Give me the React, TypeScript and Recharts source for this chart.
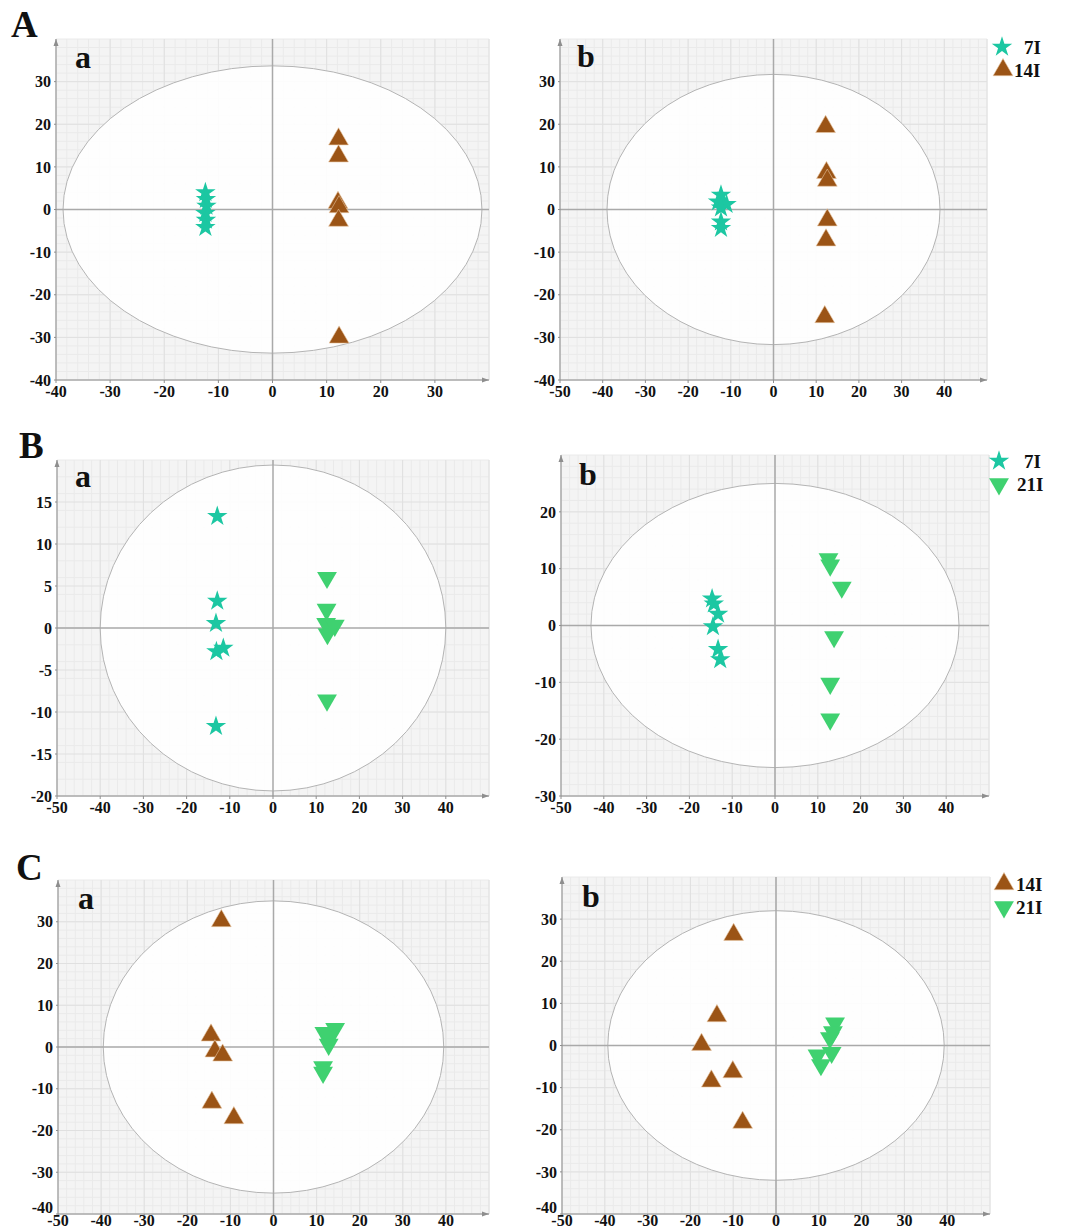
import React from "react";
import {
  ScatterChart,
  Scatter,
  XAxis,
  YAxis,
  CartesianGrid,
  ReferenceArea,
  ReferenceLine,
  ReferenceDot,
  Symbols,
} from "recharts";

const TEAL = "#1cc7a2";
const BROWN = "#9b5416";
const GREEN = "#3fd170";
const SERIF = "'Liberation Serif', 'Times New Roman', serif";

// ---- data ----
const aa7I = [
  { x: -12.4, y: 4.0 }, { x: -12.3, y: 2.4 }, { x: -12.2, y: 0.8 },
  { x: -12.4, y: -0.9 }, { x: -12.3, y: -2.5 }, { x: -12.4, y: -4.2 },
];
const aa14I = [
  { x: 12.2, y: 16.5 }, { x: 12.2, y: 12.5 }, { x: 12.1, y: 1.6 },
  { x: 12.3, y: 0.6 }, { x: 12.2, y: -2.6 }, { x: 12.3, y: -30 },
];
const ab7I = [
  { x: -12.3, y: 3.4 }, { x: -13.0, y: 1.8 }, { x: -11.0, y: 1.2 },
  { x: -12.3, y: 0.4 }, { x: -12.3, y: -2.9 }, { x: -12.3, y: -4.4 },
];
const ab14I = [
  { x: 12.2, y: 19.4 }, { x: 12.4, y: 8.6 }, { x: 12.6, y: 6.8 },
  { x: 12.6, y: -2.5 }, { x: 12.3, y: -7.2 }, { x: 12.0, y: -25.2 },
];
const ba7I = [
  { x: -12.9, y: 13.3 }, { x: -12.9, y: 3.2 }, { x: -13.2, y: 0.55 },
  { x: -13.1, y: -2.8 }, { x: -11.5, y: -2.4 }, { x: -13.2, y: -11.7 },
];
const ba21I = [
  { x: 12.5, y: 6.0 }, { x: 12.4, y: 2.2 }, { x: 12.3, y: 0.5 },
  { x: 14.3, y: 0.3 }, { x: 12.6, y: -0.7 }, { x: 12.5, y: -8.6 },
];
const bb7I = [
  { x: -14.7, y: 4.7 }, { x: -14.3, y: 3.8 }, { x: -13.3, y: 2.0 },
  { x: -14.5, y: -0.2 }, { x: -13.3, y: -4.2 }, { x: -12.8, y: -6.0 },
];
const bb21I = [
  { x: 12.5, y: 11.7 }, { x: 12.9, y: 10.6 }, { x: 15.6, y: 6.7 },
  { x: 13.8, y: -2.0 }, { x: 12.9, y: -10.2 }, { x: 12.9, y: -16.5 },
];
const ca14I = [
  { x: -12.1, y: 30.2 }, { x: -14.5, y: 2.8 }, { x: -13.6, y: -1.0 },
  { x: -11.8, y: -2.0 }, { x: -14.3, y: -13.3 }, { x: -9.2, y: -17.0 },
];
const ca21I = [
  { x: 14.3, y: 4.4 }, { x: 11.8, y: 3.4 }, { x: 12.9, y: 2.2 },
  { x: 12.8, y: 0.6 }, { x: 11.5, y: -4.8 }, { x: 11.5, y: -6.1 },
];
const cb14I = [
  { x: -9.9, y: 26.3 }, { x: -13.8, y: 7.0 }, { x: -17.4, y: 0.2 },
  { x: -10.1, y: -6.3 }, { x: -15.1, y: -8.5 }, { x: -7.8, y: -18.3 },
];
const cb21I = [
  { x: 13.8, y: 5.3 }, { x: 13.3, y: 3.2 }, { x: 12.6, y: 1.8 },
  { x: 13.0, y: -1.7 }, { x: 9.7, y: -2.3 }, { x: 10.5, y: -4.6 },
];

// Hotelling ellipse half-axes [x, y]
const ellipseAa = [38.7, 33.7];
const ellipseAb = [39, 31.7];
const ellipseBa = [40, 19.4];
const ellipseBb = [43, 25];
const ellipseCa = [39.5, 35];
const ellipseCb = [39.3, 32];

// ticks
const xTicks40 = [-40, -30, -20, -10, 0, 10, 20, 30];
const xTicks50 = [-50, -40, -30, -20, -10, 0, 10, 20, 30, 40];
const yTicks40 = [-40, -30, -20, -10, 0, 10, 20, 30];
const yTicks30 = [-30, -20, -10, 0, 10, 20];
const yTicks20 = [-20, -15, -10, -5, 0, 5, 10, 15];

type Kind = "star" | "up" | "down";

const Marker = ({ cx, cy, kind, color }: { cx: number; cy: number; kind: Kind; color: string }) => {
  if (kind === "star") return <Symbols cx={cx} cy={cy} type="star" size={130} fill={color} />;
  if (kind === "up")
    return <Symbols cx={cx} cy={cy} type="triangle" size={170} fill={color} stroke="#e9c7a4" strokeWidth={0.6} />;
  return (
    <g transform={`rotate(180 ${cx} ${cy})`}>
      <Symbols cx={cx} cy={cy} type="triangle" size={170} fill={color} />
    </g>
  );
};

const range = (a: number, b: number, step: number) => {
  const out: number[] = [];
  for (let v = a; v <= b; v += step) out.push(v);
  return out;
};

const tickFont = { fontFamily: SERIF, fontWeight: 700, fontSize: 16, fill: "#111" };

// y tick; in the bottom row the lowest label sits a little higher, as in the figure
const YTick = ({ x, y, payload, lowest, lift }: any) => (
  <text x={x} y={y - (lift && payload.value === lowest ? 7 : 0)} dy="0.355em" textAnchor="end" {...tickFont}>
    {payload.value}
  </text>
);

interface PanelProps {
  box: { x: number; y: number; w: number; h: number };
  xDomain: number[];
  yDomain: number[];
  xTicks: number[];
  yTicks: number[];
  ellipse: number[];
  series: { data: { x: number; y: number }[]; kind: Kind; color: string }[];
  tight?: boolean;
}

const Panel = ({ box, xDomain, yDomain, xTicks, yTicks, ellipse, series, tight }: PanelProps) => {
  const ML = 50, MT = 12, MR = 10, MB = 32;
  return (
    <div style={{ position: "absolute", left: box.x - ML, top: box.y - MT }}>
      <ScatterChart
        width={box.w + ML + MR}
        height={box.h + MT + MB}
        margin={{ top: MT, right: MR, bottom: 0, left: 0 }}
      >
        <CartesianGrid
          fill="#f4f4f4"
          stroke="#eaeaea"
          verticalValues={range(xDomain[0], xDomain[1], 2)}
          horizontalValues={range(yDomain[0], yDomain[1], 2)}
        />
        <CartesianGrid
          stroke="#e0e0e0"
          verticalValues={range(xDomain[0], xDomain[1], 10)}
          horizontalValues={yTicks}
        />
        <XAxis
          type="number"
          dataKey="x"
          domain={xDomain}
          ticks={xTicks}
          interval={0}
          allowDataOverflow
          height={MB}
          tick={tickFont}
          tickSize={tight ? 1 : 3}
          tickMargin={tight ? 0 : 3}
          stroke="#8e8e8e"
        />
        <YAxis
          type="number"
          dataKey="y"
          domain={yDomain}
          ticks={yTicks}
          interval={0}
          allowDataOverflow
          width={ML}
          tick={<YTick lowest={yTicks[0]} lift={tight} />}
          tickSize={2}
          tickMargin={3}
          stroke="#8e8e8e"
        />
        <ReferenceArea
          x1={-ellipse[0]}
          x2={ellipse[0]}
          y1={-ellipse[1]}
          y2={ellipse[1]}
          shape={(p: any) => (
            <ellipse
              cx={p.x + p.width / 2}
              cy={p.y + p.height / 2}
              rx={Math.abs(p.width) / 2}
              ry={Math.abs(p.height) / 2}
              fill="#ffffff"
              fillOpacity={0.9}
              stroke="#b4b4b4"
              strokeWidth={1}
            />
          )}
        />
        <ReferenceLine x={0} stroke="#a9a9a9" strokeWidth={1.5} />
        <ReferenceLine y={0} stroke="#a9a9a9" strokeWidth={1.5} />
        <ReferenceDot
          x={xDomain[1]}
          y={yDomain[0]}
          ifOverflow="visible"
          shape={(p: any) => <path d={`M${p.cx - 7},${p.cy - 2.5}L${p.cx},${p.cy}L${p.cx - 7},${p.cy + 2.5}Z`} fill="#8e8e8e" />}
        />
        <ReferenceDot
          x={xDomain[0]}
          y={yDomain[1]}
          ifOverflow="visible"
          shape={(p: any) => <path d={`M${p.cx - 2.5},${p.cy + 7}L${p.cx},${p.cy}L${p.cx + 2.5},${p.cy + 7}Z`} fill="#8e8e8e" />}
        />
        {series.map((s, i) => (
          <Scatter
            key={i}
            data={s.data}
            isAnimationActive={false}
            shape={(p: any) => <Marker cx={p.cx} cy={p.cy} kind={s.kind} color={s.color} />}
          />
        ))}
      </ScatterChart>
    </div>
  );
};

const LegendItem = ({ x, y, kind, color, label, tx }: { x: number; y: number; kind: Kind; color: string; label: string; tx: number }) => (
  <g>
    <Marker cx={x} cy={y} kind={kind} color={color} />
    <text x={tx} y={y + 7} fontFamily={SERIF} fontWeight={700} fontSize={19} fill="#111">
      {label}
    </text>
  </g>
);

export default function App() {
  return (
    <div style={{ position: "absolute", left: 0, top: 0, width: 1069, height: 1232, background: "#fff", overflow: "hidden" }}>
      <Panel box={{ x: 56, y: 39, w: 433, h: 341 }} xDomain={[-40, 40]} yDomain={[-40, 40]} xTicks={xTicks40} yTicks={yTicks40} ellipse={ellipseAa}
        series={[{ data: aa7I, kind: "star", color: TEAL }, { data: aa14I, kind: "up", color: BROWN }]} />
      <Panel box={{ x: 560, y: 39, w: 427, h: 341 }} xDomain={[-50, 50]} yDomain={[-40, 40]} xTicks={xTicks50} yTicks={yTicks40} ellipse={ellipseAb}
        series={[{ data: ab7I, kind: "star", color: TEAL }, { data: ab14I, kind: "up", color: BROWN }]} />
      <Panel box={{ x: 57, y: 460, w: 432, h: 336 }} xDomain={[-50, 50]} yDomain={[-20, 20]} xTicks={xTicks50} yTicks={yTicks20} ellipse={ellipseBa}
        series={[{ data: ba7I, kind: "star", color: TEAL }, { data: ba21I, kind: "down", color: GREEN }]} />
      <Panel box={{ x: 561, y: 455, w: 428, h: 341 }} xDomain={[-50, 50]} yDomain={[-30, 30]} xTicks={xTicks50} yTicks={yTicks30} ellipse={ellipseBb}
        series={[{ data: bb7I, kind: "star", color: TEAL }, { data: bb21I, kind: "down", color: GREEN }]} />
      <Panel box={{ x: 58, y: 880, w: 431, h: 334 }} xDomain={[-50, 50]} yDomain={[-40, 40]} xTicks={xTicks50} yTicks={yTicks40} ellipse={ellipseCa} tight
        series={[{ data: ca14I, kind: "up", color: BROWN }, { data: ca21I, kind: "down", color: GREEN }]} />
      <Panel box={{ x: 562, y: 877, w: 428, h: 337 }} xDomain={[-50, 50]} yDomain={[-40, 40]} xTicks={xTicks50} yTicks={yTicks40} ellipse={ellipseCb} tight
        series={[{ data: cb14I, kind: "up", color: BROWN }, { data: cb21I, kind: "down", color: GREEN }]} />

      <svg width={1069} height={1232} style={{ position: "absolute", left: 0, top: 0, pointerEvents: "none" }}>
        <g fontFamily={SERIF} fontWeight={700} fill="#111">
          <text x={11} y={37} fontSize={37}>A</text>
          <text x={19} y={458} fontSize={37}>B</text>
          <text x={16} y={880} fontSize={37}>C</text>
          <text x={75} y={68} fontSize={32}>a</text>
          <text x={577} y={67} fontSize={32}>b</text>
          <text x={75} y={487} fontSize={32}>a</text>
          <text x={579} y={485} fontSize={32}>b</text>
          <text x={78} y={909} fontSize={32}>a</text>
          <text x={582} y={907} fontSize={32}>b</text>
        </g>
        <LegendItem x={1002} y={47} kind="star" color={TEAL} label="7I" tx={1024} />
        <LegendItem x={1003} y={70} kind="up" color={BROWN} label="14I" tx={1014} />
        <LegendItem x={999} y={461} kind="star" color={TEAL} label="7I" tx={1024} />
        <LegendItem x={999} y={484} kind="down" color={GREEN} label="21I" tx={1017} />
        <LegendItem x={1004} y={884} kind="up" color={BROWN} label="14I" tx={1016} />
        <LegendItem x={1004} y={907} kind="down" color={GREEN} label="21I" tx={1016} />
      </svg>
    </div>
  );
}
